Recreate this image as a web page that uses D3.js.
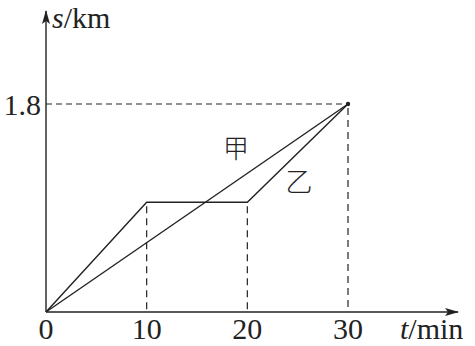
<!DOCTYPE html>
<html>
<head>
<meta charset="utf-8">
<script src="https://cdn.jsdelivr.net/npm/d3@7"></script>
<style>
  body { margin: 0; background: #fff; }
  svg text { font-family: "Liberation Serif", "DejaVu Serif", serif; fill: #222; }
</style>
</head>
<body>
<div id="chart"></div>
<script>
// data
const xTicks = [0, 10, 20, 30];
const yTicks = [1.8];
const jiaT = [0, 30];          // 甲: steady
const jiaS = [0, 1.8];
const yiT = [0, 10, 20, 30];   // 乙: goes, rests, goes
const yiS = [0, 0.95, 0.95, 1.8];
const seriesNames = ["甲", "乙"];

const width = 475, height = 346;
const ink = "#222";

const svg = d3.select("#chart").append("svg")
    .attr("width", width)
    .attr("height", height);

const x = d3.scaleLinear().domain([0, 30]).range([46, 348]);
const y = d3.scaleLinear().domain([0, 1.8]).range([312, 104]);

// arrow head
svg.append("defs").append("marker")
    .attr("id", "arr")
    .attr("viewBox", "0 0 14 10")
    .attr("refX", 13).attr("refY", 5)
    .attr("markerWidth", 14).attr("markerHeight", 10)
    .attr("markerUnits", "userSpaceOnUse")
    .attr("orient", "auto")
    .append("path")
    .attr("d", "M0,1 L14,5 L0,9 L3,5 Z")
    .attr("fill", ink);

// axes
svg.append("line")
    .attr("x1", x(0)).attr("y1", y(0))
    .attr("x2", 458).attr("y2", y(0))
    .attr("stroke", ink).attr("stroke-width", 1.4)
    .attr("marker-end", "url(#arr)");
svg.append("line")
    .attr("x1", x(0)).attr("y1", y(0))
    .attr("x2", x(0)).attr("y2", 11)
    .attr("stroke", ink).attr("stroke-width", 1.4)
    .attr("marker-end", "url(#arr)");

// dashed guides
const dash = "6,4";
svg.append("line")
    .attr("x1", x(0)).attr("y1", y(1.8))
    .attr("x2", x(30)).attr("y2", y(1.8))
    .attr("stroke", ink).attr("stroke-width", 1.2)
    .attr("stroke-dasharray", dash);
yiT.slice(1).forEach((t, i) => {
    svg.append("line")
        .attr("x1", x(t)).attr("y1", y(yiS[i + 1]) + 4)
        .attr("x2", x(t)).attr("y2", y(0))
        .attr("stroke", ink).attr("stroke-width", 1.2)
        .attr("stroke-dasharray", "7,5");
});

// lines
const line = d3.line().x(d => x(d[0])).y(d => y(d[1]));
svg.append("path")
    .attr("d", line(d3.zip(jiaT, jiaS)))
    .attr("fill", "none").attr("stroke", ink).attr("stroke-width", 1.4);
svg.append("path")
    .attr("d", line(d3.zip(yiT, yiS)))
    .attr("fill", "none").attr("stroke", ink).attr("stroke-width", 1.4);

svg.append("circle")
    .attr("cx", x(30)).attr("cy", y(1.8)).attr("r", 2.2)
    .attr("fill", ink);

// tick labels
svg.selectAll(".xt").data(xTicks).enter().append("text")
    .attr("x", d => x(d))
    .attr("y", 339)
    .attr("text-anchor", "middle")
    .attr("font-size", 30)
    .text(d => d);
svg.selectAll(".yt").data(yTicks).enter().append("text")
    .attr("x", 41)
    .attr("y", d => y(d) + 11)
    .attr("text-anchor", "end")
    .attr("font-size", 30)
    .text(d => d.toFixed(1));

// axis titles
const yt = svg.append("text").attr("x", 52).attr("y", 28).attr("font-size", 30);
yt.append("tspan").attr("font-style", "italic").text("s");
yt.append("tspan").text("/km");
const xt = svg.append("text").attr("x", 400).attr("y", 339).attr("font-size", 30);
xt.append("tspan").attr("font-style", "italic").text("t");
xt.append("tspan").text("/min");

// series names
svg.append("text")
    .attr("x", 236).attr("y", 158)
    .attr("text-anchor", "middle")
    .attr("font-size", 26)
    .style("font-family", "'Noto Sans CJK SC', sans-serif")
    .style("font-weight", 300)
    .text(seriesNames[0]);
svg.append("text")
    .attr("x", 299).attr("y", 192)
    .attr("text-anchor", "middle")
    .attr("font-size", 27)
    .style("font-family", "'Noto Sans CJK SC', sans-serif")
    .style("font-weight", 300)
    .text(seriesNames[1]);
</script>
</body>
</html>
